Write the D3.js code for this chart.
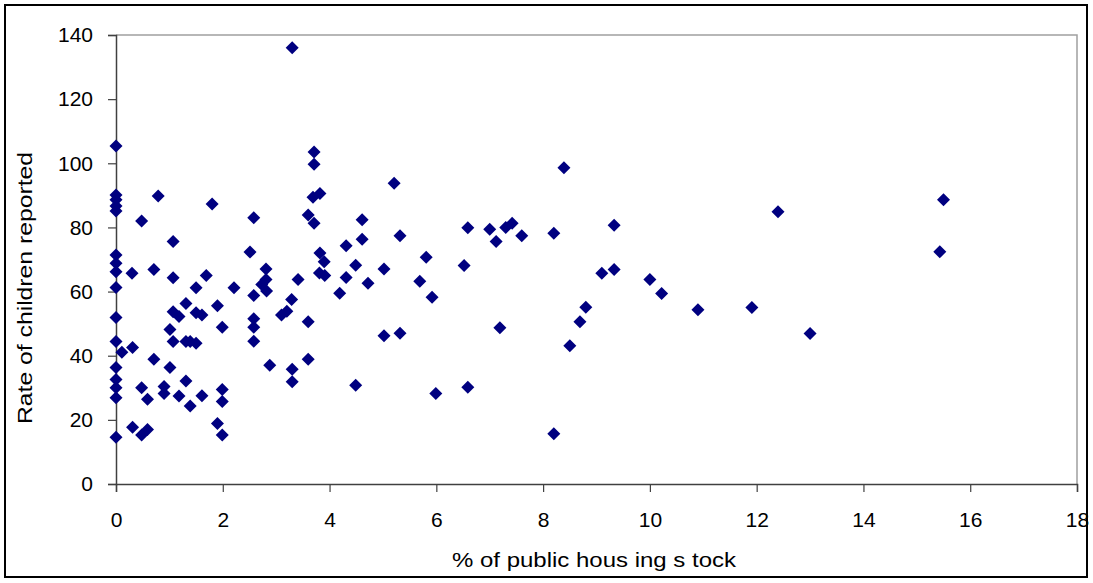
<!DOCTYPE html>
<html><head><meta charset="utf-8">
<script src="https://cdn.jsdelivr.net/npm/d3@7"></script>
<style>body{margin:0;background:#fff}svg{display:block}</style>
</head><body><svg id="c" width="1093" height="583"></svg>
<script>
const xTicks = [0,2,4,6,8,10,12,14,16,18];
const yTicks = [0,20,40,60,80,100,120,140];
const xLabel = "% of public hous ing s tock";
const yLabel = "Rate of children reported";
const pubHousing = [
 0,0,0,0,0,0,0,0,0,0,0,0,0,0,0,0,
 0.11,0.3,0.31,0.31,0.48,0.48,0.48,0.59,0.59,0.71,0.71,0.79,0.9,0.9,
 1.01,1.01,1.07,1.07,1.07,1.07,1.18,1.18,1.31,1.31,1.31,1.39,1.39,
 1.5,1.5,1.5,1.61,1.61,1.69,1.8,1.9,1.9,1.99,1.99,1.99,1.99,
 2.21,2.51,2.58,2.58,2.58,2.58,2.58,2.81,2.81,2.73,2.82,2.88,
 3.1,3.2,3.29,3.3,3.3,3.3,3.41,3.6,3.6,3.6,3.71,3.71,3.69,3.82,3.71,3.82,3.9,3.81,3.91,
 4.19,4.31,4.31,4.49,4.49,4.61,4.61,4.72,5.02,5.02,5.21,5.32,5.32,5.69,5.81,5.92,5.99,
 6.52,6.59,6.59,7.0,7.12,7.19,7.3,7.42,7.6,8.2,8.2,8.39,8.5,8.69,8.8,9.1,9.33,9.33,
 10.0,10.22,10.9,11.91,12.4,13.0,15.43,15.5
];
const childRate = [
 105.4,90.1,88.6,86.7,85.1,71.4,68.8,66.2,61.3,51.9,44.4,36.3,32.6,30.0,26.9,14.6,
 41.1,65.7,42.6,17.7,82,30,15.3,26.4,17,66.9,38.9,89.8,30.4,28.2,
 48.2,36.3,75.6,64.3,53.7,44.4,52.2,27.4,56.3,44.4,32.1,44.4,24.3,
 61.2,53.4,43.9,52.7,27.5,65,87.3,55.6,18.9,48.9,29.5,25.7,15.3,
 61.2,72.3,83,58.8,51.5,48.9,44.5,67,63.8,62.2,60.2,37,
 52.7,53.9,57.5,136,35.8,31.9,63.8,83.9,50.6,38.9,103.5,99.7,89.4,90.6,81.3,72,69.3,65.8,65,
 59.5,74.3,64.4,68.2,30.8,82.4,76.3,62.6,67,46.2,93.8,77.4,47,63.2,70.7,58.2,28.2,
 68.1,79.9,30.2,79.4,75.6,48.7,80,81.3,77.4,78.2,15.7,98.6,43.1,50.6,55.1,65.7,80.7,66.9,
 63.8,59.4,54.3,55,84.9,46.9,72.4,88.6
];
const points = pubHousing.map((x,i)=>({x, y: childRate[i]}));

const svg = d3.select("#c");
const L=116, R=1077, T=35, B=484;
const x = d3.scaleLinear().domain([0,18]).range([L,R]);
const y = d3.scaleLinear().domain([0,140]).range([B,T]);

svg.append("rect").attr("x",5).attr("y",5).attr("width",1082).attr("height",572)
  .attr("fill","#fff").attr("stroke","#000").attr("stroke-width",2);

svg.append("path").attr("d",`M${L},${T}H${R}V${B}`).attr("fill","none").attr("stroke","#a0a0a0").attr("stroke-width",1.5);

const font = "'Liberation Sans', Arial, sans-serif";
const yAxis = svg.append("g").attr("transform",`translate(${L},0)`)
  .call(d3.axisLeft(y).tickValues(yTicks).tickSize(8).tickPadding(15).tickFormat(d3.format("d")));
const xAxis = svg.append("g").attr("transform",`translate(0,${B})`)
  .call(d3.axisBottom(x).tickValues(xTicks).tickSize(8).tickPadding(20).tickFormat(d3.format("d")));
[yAxis,xAxis].forEach(g=>{
  g.select(".domain").attr("stroke","#404040").attr("stroke-width",1.5);
  g.selectAll(".tick line").attr("stroke","#404040").attr("stroke-width",1.2);
  g.selectAll(".tick text").attr("font-family",font).attr("font-size",21).attr("fill","#000");
});

const dia = "M0,-6.5L6.5,0L0,6.5L-6.5,0Z";
svg.append("g").selectAll("path").data(points).join("path")
  .attr("d",dia).attr("transform",d=>`translate(${x(d.x)},${y(d.y)})`)
  .attr("fill","#000080");

svg.append("text").attr("x",594).attr("y",567).attr("text-anchor","middle")
  .attr("font-family",font).attr("font-size",20)
  .attr("textLength",284).attr("lengthAdjust","spacingAndGlyphs").text(xLabel);
svg.append("text").attr("transform",`translate(32,${288}) rotate(-90)`).attr("text-anchor","middle")
  .attr("font-family",font).attr("font-size",21)
  .attr("textLength",272).attr("lengthAdjust","spacingAndGlyphs").text(yLabel);
</script></body></html>
